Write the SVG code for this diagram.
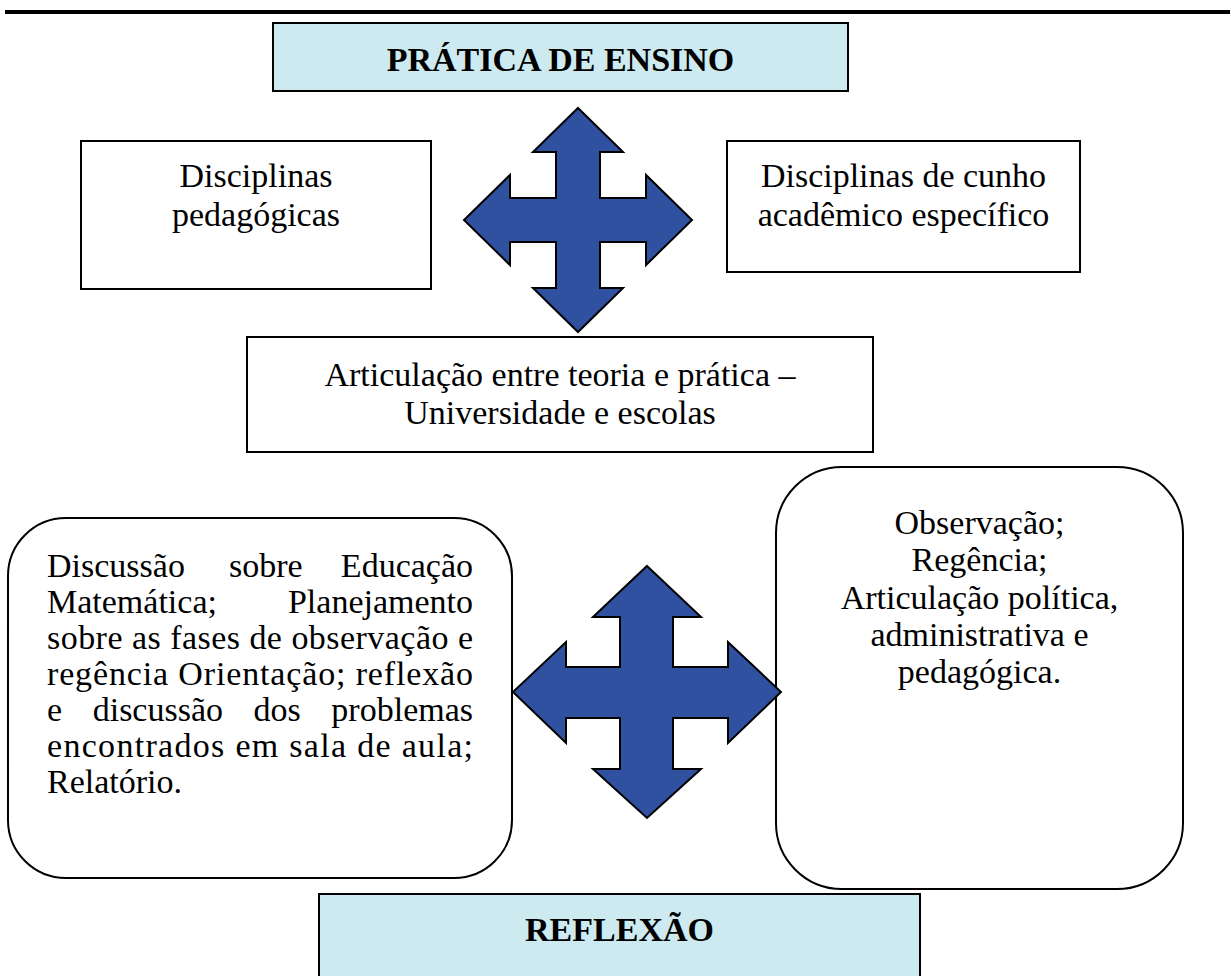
<svg xmlns="http://www.w3.org/2000/svg" width="1230" height="976" viewBox="0 0 1230 976">
<style>
.box{fill:#ffffff;stroke:#000000;stroke-width:2}
.title{fill:#cdeaf1;stroke:#000000;stroke-width:2}
.t{font-family:"Liberation Serif","Times New Roman",serif;font-size:34px;fill:#000000}
.c{text-anchor:middle}
.b{font-weight:bold}
.arrow{fill:#3050a0;stroke:#000000;stroke-width:2;stroke-linejoin:miter}
</style>
<rect x="0" y="0" width="1230" height="976" fill="#ffffff"/>
<line x1="5" y1="12" x2="1230" y2="12" stroke="#000000" stroke-width="4"/>

<g id="pratica">
<rect class="title" x="273" y="23" width="575" height="68"/>
<text class="t c b" x="560.5" y="71">PRÁTICA DE ENSINO</text>
</g>

<g id="pedagogicas">
<rect class="box" x="81" y="141" width="350" height="148"/>
<text class="t c" x="256" y="187">Disciplinas</text>
<text class="t c" x="256" y="226">pedagógicas</text>
</g>

<g id="academico">
<rect class="box" x="727" y="141" width="353" height="131"/>
<text class="t c" x="903.5" y="187">Disciplinas de cunho</text>
<text class="t c" x="903.5" y="226">acadêmico específico</text>
</g>

<g id="articulacao">
<rect class="box" x="247" y="337" width="626" height="115"/>
<text class="t c" x="560" y="386">Articulação entre teoria e prática –</text>
<text class="t c" x="560" y="424">Universidade e escolas</text>
</g>

<g id="discussao">
<rect class="box" x="8" y="518" width="504" height="360" rx="58" ry="58"/>
<text class="t" y="577"><tspan x="47">Discussão</tspan><tspan x="229">sobre</tspan><tspan x="473" text-anchor="end">Educação</tspan></text>
<text class="t" y="613"><tspan x="47">Matemática;</tspan><tspan x="473" text-anchor="end">Planejamento</tspan></text>
<text class="t" y="649" textLength="426" lengthAdjust="spacing" x="47">sobre as fases de observação e</text>
<text class="t" y="685" textLength="426" lengthAdjust="spacing" x="47">regência Orientação; reflexão</text>
<text class="t" y="721"><tspan x="47">e</tspan><tspan x="92.7">discussão</tspan><tspan x="253.6">dos</tspan><tspan x="473" text-anchor="end">problemas</tspan></text>
<text class="t" y="757" textLength="426" lengthAdjust="spacing" x="47">encontrados em sala de aula;</text>
<text class="t" y="793" x="47">Relatório.</text>
</g>

<g id="observacao">
<rect class="box" x="776" y="467" width="407" height="422" rx="66" ry="66"/>
<text class="t c" x="979.5" y="534">Observação;</text>
<text class="t c" x="979.5" y="571">Regência;</text>
<text class="t c" x="979.5" y="608.5">Articulação política,</text>
<text class="t c" x="979.5" y="646">administrativa e</text>
<text class="t c" x="979.5" y="683">pedagógica.</text>
</g>

<g id="reflexao">
<rect class="title" x="319" y="894" width="601" height="100"/>
<text class="t c b" x="619.5" y="941">REFLEXÃO</text>
</g>

<g id="connectors">
<polygon class="arrow" points="578,108 623,152 600,152 600,198 646,198 646,175 692,220 646,265 646,242 600,242 600,288 623,288 578,332 533,288 556,288 556,242 510,242 510,265 464,220 510,175 510,198 556,198 556,152 533,152"/>
<polygon class="arrow" points="647,566 701,617 673,617 673,667 728,667 728,642 781,692 728,743 728,718 673,718 673,769 701,769 647,818 593,769 620,769 620,718 566,718 566,743 513,692 566,642 566,667 620,667 620,617 593,617"/>
</g>
</svg>
